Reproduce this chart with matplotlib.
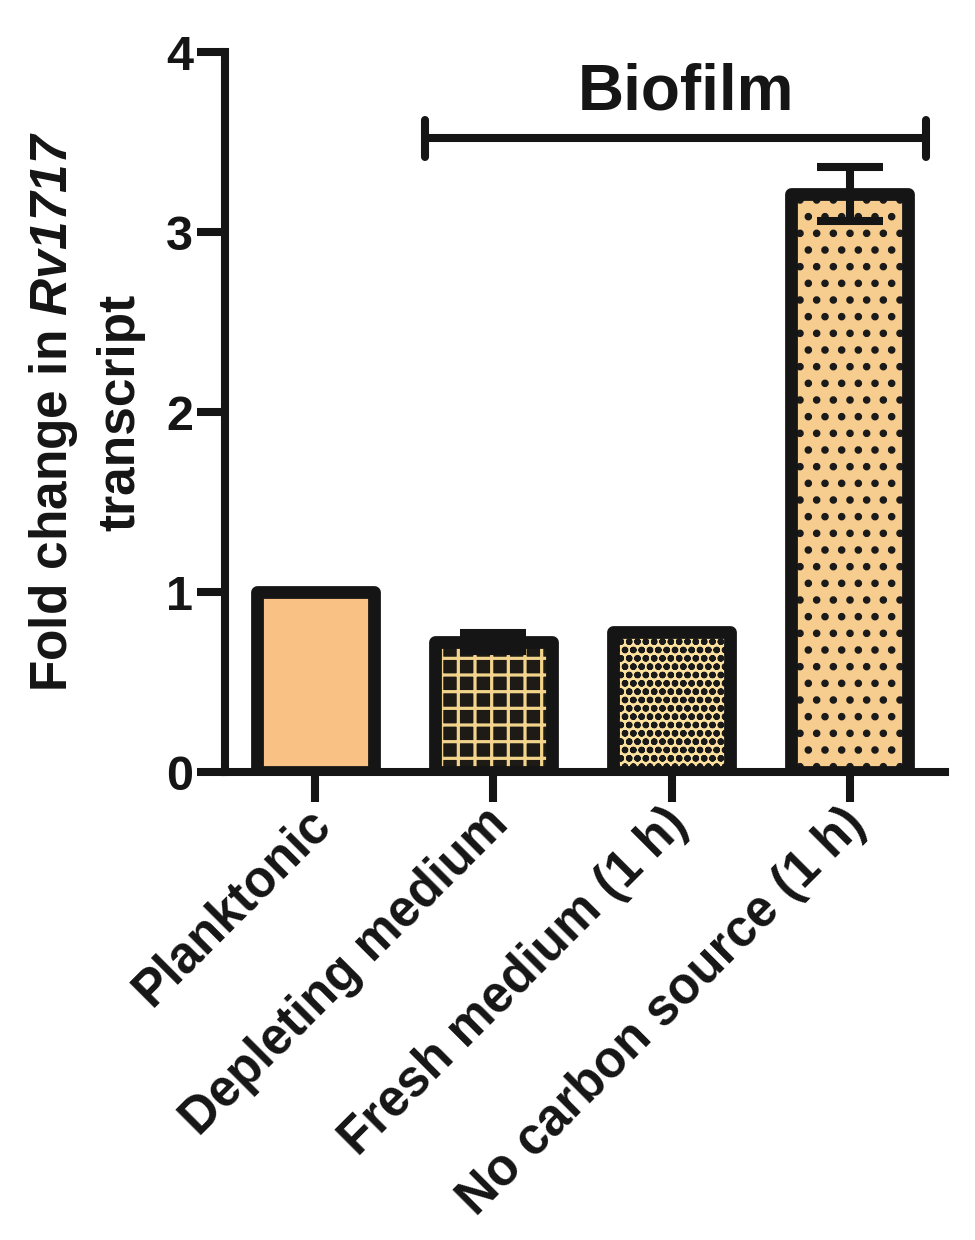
import numpy as np
import matplotlib
matplotlib.use("Agg")
import matplotlib.pyplot as plt
import matplotlib.transforms as mtransforms

# -----------------------------
# Data
# -----------------------------
conditions = ["Planktonic", "Depleting medium", "Fresh medium (1 h)",
              "No carbon source (1 h)"]
fold_change = [1.00, 0.72, 0.78, 3.21]
sem = [0.00, 0.05, 0.00, 0.15]
group_label = "Biofilm"

fill_colors = ["#f9c184", "#1e1b17", "#fbe09e", "#f7cd8f"]
hatch_colors = ["#f9c184", "#f2d48c", "#1a1a1a", "#1a1a1a"]
hatches = [None, "+", "oo", "."]
hatch_widths = [1.0, 2.3, 2.3, 3.0]

# -----------------------------
# Style
# -----------------------------
plt.rcParams["font.family"] = ["Liberation Sans", "DejaVu Sans"]
plt.rcParams["font.weight"] = "bold"
plt.rcParams["mathtext.fontset"] = "custom"
plt.rcParams["mathtext.it"] = "Liberation Sans:italic:bold"
plt.rcParams["mathtext.rm"] = "Liberation Sans:italic:bold"

ink = "#151515"
lw_axis = 5.8

fig = plt.figure(figsize=(9.75, 12.4), dpi=100)
ax = fig.add_axes([225 / 975, 1 - 772 / 1240, 720 / 975, 720 / 1240])

x = np.arange(len(conditions))
width = 0.656

# hatch layer, then the thick black outline on top
for i in range(len(conditions)):
    plt.rcParams["hatch.linewidth"] = hatch_widths[i]
    b = ax.bar(x[i], fold_change[i], width, color=fill_colors[i],
               edgecolor=hatch_colors[i], hatch=hatches[i], linewidth=0,
               zorder=2)
    for p in b:
        if hasattr(p, "set_hatch_linewidth"):
            p.set_hatch_linewidth(hatch_widths[i])

ax.bar(x, fold_change, width, fill=False, edgecolor=ink, linewidth=9.2,
       joinstyle="round", zorder=3)

# error bars only where there is one
has_err = np.array(sem) > 0
ax.errorbar(x[has_err], np.array(fold_change)[has_err],
            yerr=np.array(sem)[has_err], fmt="none", ecolor=ink,
            elinewidth=lw_axis, capsize=23.8, capthick=lw_axis, zorder=4)

# -----------------------------
# Axes
# -----------------------------
ax.set_xlim(-0.505, 3.533)
ax.set_ylim(0, 4)
ax.set_yticks([0, 1, 2, 3, 4])
ax.set_xticks(x)
ax.set_xticklabels(conditions, rotation=45, ha="right", va="center",
                   rotation_mode="anchor", fontsize=36.5, fontweight="bold")
ax.tick_params(axis="y", labelsize=35, width=lw_axis, length=20, pad=3,
               color=ink, labelcolor=ink)
ax.tick_params(axis="x", width=lw_axis, length=21.5, pad=17, color=ink,
               labelcolor=ink)
for lab in ax.get_yticklabels():
    lab.set_fontweight("bold")

# nudge the slanted labels a little right and up
shift = mtransforms.ScaledTranslation(8 / 100, 9 / 100, fig.dpi_scale_trans)
for lab in ax.get_xticklabels():
    lab.set_transform(lab.get_transform() + shift)

for side in ["top", "right"]:
    ax.spines[side].set_visible(False)
for side in ["left", "bottom"]:
    ax.spines[side].set_linewidth(lw_axis)
    ax.spines[side].set_color(ink)
    ax.spines[side].set_capstyle("projecting")

ax.set_ylabel("Fold change in $\\mathit{Rv1717}$\ntranscript",
              fontsize=37, fontweight="bold", linespacing=1.45, color=ink)
ax.yaxis.set_label_coords(-0.11, 0.5)

# -----------------------------
# Biofilm bracket
# -----------------------------
br_left, br_right, br_y, br_tick = 0.617, 3.427, 3.52, 0.105
ax.plot([br_left, br_right], [br_y, br_y], color=ink, lw=lw_axis,
        solid_capstyle="butt", clip_on=False)
for bx in (br_left, br_right):
    ax.plot([bx, bx], [br_y - br_tick, br_y + br_tick], color=ink,
            lw=lw_axis, solid_capstyle="round", clip_on=False)
ax.text((br_left + br_right) / 2 + 0.06, br_y + 0.16, group_label,
        ha="center", va="baseline", fontsize=46, fontweight="bold",
        color=ink)

fig.savefig("out.png", dpi=100, facecolor="white")
